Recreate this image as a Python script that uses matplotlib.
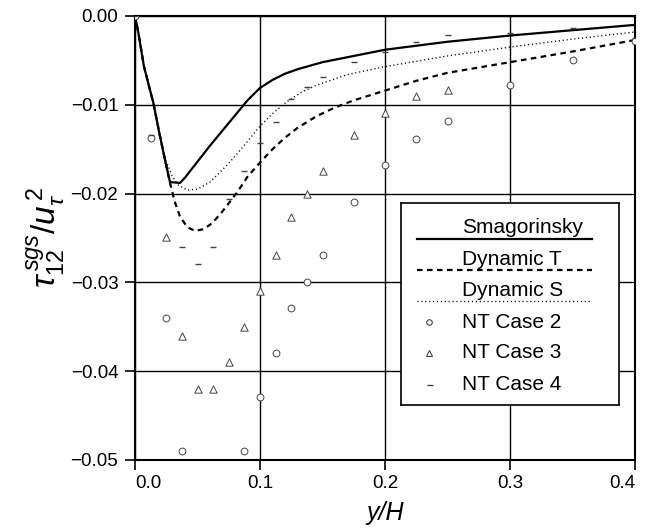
import matplotlib
matplotlib.use("Agg")
import matplotlib.pyplot as plt

plt.rcParams['font.family'] = ['Liberation Sans', 'DejaVu Sans']
plt.rcParams['mathtext.fontset'] = 'custom'
plt.rcParams['mathtext.rm'] = 'Liberation Sans'
plt.rcParams['mathtext.it'] = 'Liberation Sans:italic'

# Кривые моделей
smag_x = [0.0, 0.0027, 0.0072, 0.0147, 0.0195, 0.024, 0.028, 0.036, 0.040, 0.045, 0.05, 0.06, 0.07,
          0.08, 0.09, 0.1, 0.11, 0.12, 0.13, 0.14, 0.15, 0.175, 0.2, 0.25, 0.3, 0.35, 0.4]
smag_y = [0.0, -0.0019, -0.0057, -0.0098, -0.0132, -0.0162, -0.0187, -0.0188, -0.0182, -0.0173, -0.0164,
          -0.0146, -0.0129, -0.0112, -0.0095, -0.0081, -0.0072, -0.0065, -0.0060, -0.0056, -0.0052,
          -0.0045, -0.0038, -0.0029, -0.0022, -0.0016, -0.0010]

dynT_x = [0.0, 0.0027, 0.0072, 0.0147, 0.0195, 0.024, 0.028, 0.032, 0.036, 0.042, 0.048, 0.055,
          0.062, 0.07, 0.076, 0.082, 0.09, 0.1, 0.11, 0.12, 0.13, 0.145, 0.16, 0.175, 0.2, 0.225,
          0.25, 0.3, 0.35, 0.4]
dynT_y = [0.0, -0.0019, -0.0057, -0.0098, -0.0132, -0.0162, -0.0188, -0.0210, -0.0226, -0.0238, -0.0242,
          -0.0240, -0.0233, -0.0220, -0.0209, -0.0198, -0.0181, -0.0165, -0.0150, -0.0137, -0.0126,
          -0.0113, -0.0103, -0.0095, -0.0084, -0.0073, -0.0064, -0.0052, -0.0040, -0.0027]

dynS_x = [0.0, 0.0027, 0.0072, 0.0147, 0.0195, 0.024, 0.030, 0.035, 0.042, 0.05, 0.06, 0.075,
          0.086, 0.1, 0.11, 0.121, 0.133, 0.145, 0.17, 0.2, 0.25, 0.3, 0.35, 0.4]
dynS_y = [0.0, -0.0019, -0.0057, -0.0098, -0.0132, -0.0160, -0.0181, -0.0191, -0.0196, -0.0195, -0.0187,
          -0.0166, -0.0148, -0.0124, -0.0110, -0.0097, -0.0086, -0.0078, -0.0066, -0.0057, -0.0045,
          -0.0035, -0.0026, -0.0018]

# Данные NT
nt2_x = [0.0, 0.0125, 0.025, 0.0375, 0.0875, 0.1, 0.1125, 0.125, 0.1375, 0.15, 0.175, 0.2, 0.225, 0.25, 0.3, 0.35, 0.4]
nt2_y = [0.0, -0.0137, -0.0340, -0.0490, -0.0490, -0.0429, -0.0379, -0.0329, -0.0300, -0.0269, -0.0209,
         -0.0168, -0.0138, -0.0118, -0.0078, -0.0049, -0.0028]

nt3_x = [0.025, 0.0375, 0.05, 0.0625, 0.075, 0.0875, 0.1, 0.1125, 0.125, 0.1375, 0.15, 0.175, 0.2, 0.225, 0.25]
nt3_y = [-0.0249, -0.0360, -0.0420, -0.0420, -0.0390, -0.0350, -0.0310, -0.0269, -0.0226, -0.0200, -0.0175,
         -0.0134, -0.0109, -0.0090, -0.0083]

nt4_x = [0.0, 0.0125, 0.0375, 0.05, 0.0625, 0.075, 0.0875, 0.1, 0.1125, 0.125, 0.1375, 0.15, 0.175, 0.2,
         0.225, 0.25, 0.3, 0.35, 0.4]
nt4_y = [0.0, -0.0134, -0.0260, -0.0279, -0.0260, -0.0206, -0.0175, -0.0143, -0.0119, -0.0094, -0.0080,
         -0.0069, -0.0052, -0.0040, -0.0029, -0.0021, -0.0019, -0.0013, -0.0025]

x_ticks = [0.0, 0.1, 0.2, 0.3, 0.4]
y_ticks = [0.0, -0.01, -0.02, -0.03, -0.04, -0.05]

fig = plt.figure(figsize=(6.5, 5.32), dpi=100)
ax = fig.add_axes([135 / 650, 72 / 532, 500 / 650, 444 / 532])

ax.plot(smag_x, smag_y, color='black', lw=1.6, zorder=3)
ax.plot(dynT_x, dynT_y, color='black', lw=1.6, dashes=(2.5, 2.0), zorder=3)
ax.plot(dynS_x, dynS_y, color='black', lw=1.0, dashes=(0.8, 2.0), zorder=3)

ax.scatter(nt2_x, nt2_y, marker='o', s=24, facecolors='white', edgecolors='#444444', linewidths=0.7, zorder=4)
ax.scatter(nt3_x, nt3_y, marker='^', s=28, facecolors='white', edgecolors='#444444', linewidths=0.7, zorder=4)
ax.scatter(nt4_x, nt4_y, marker='_', s=25, color='#444444', linewidths=1.0, zorder=4)

ax.set_xlim(0, 0.4)
ax.set_ylim(-0.05, 0.0)
ax.set_xticks(x_ticks)
ax.set_yticks(y_ticks)
ax.set_xticklabels([f"{v:.1f}" for v in x_ticks])
ax.set_yticklabels([f"{v:.2f}".replace("-", "\u2212") if v != 0 else "0.00" for v in y_ticks])
xl = ax.get_xticklabels()
xl[0].set_ha('left')
xl[-1].set_ha('right')

ax.tick_params(direction='out', length=7, width=1.2, labelsize=13.5, pad=4)
ax.tick_params(axis='y', pad=5)
ax.grid(True, color='black', lw=1.0)
ax.set_axisbelow(True)
for s in ax.spines.values():
    s.set_linewidth(1.5)

ax.set_xlabel("y/H", fontsize=18, style='italic', labelpad=6)
ax.set_ylabel(r"$\tau^{\,sgs}_{12}/u_\tau^{\,2}$", fontsize=24, labelpad=2)

# Легенда: подпись над образцом линии, как в оригинале
lg = fig.add_axes([401 / 650, (532 - 405) / 532, 218 / 650, 202 / 532])
lg.set_xlim(0, 218)
lg.set_ylim(202, 0)
lg.set_xticks([])
lg.set_yticks([])
for s in lg.spines.values():
    s.set_linewidth(1.2)

lg.text(61, 30, "Smagorinsky", fontsize=15, va='baseline')
lg.plot([16, 191], [36, 36], color='black', lw=1.6)
lg.text(61, 62, "Dynamic T", fontsize=15, va='baseline')
lg.plot([16, 191], [67, 67], color='black', lw=1.6, dashes=(2.5, 2.0))
lg.text(61, 93, "Dynamic S", fontsize=15, va='baseline')
lg.plot([16, 191], [98, 98], color='black', lw=1.0, dashes=(0.8, 2.0))

lg.plot([28], [119], marker='o', ms=4, mfc='white', mec='#444444', mew=0.8)
lg.text(61, 119, "NT Case 2", fontsize=15, va='center')
lg.plot([28], [150], marker='^', ms=4.5, mfc='white', mec='#444444', mew=0.8)
lg.text(61, 150, "NT Case 3", fontsize=15, va='center')
lg.plot([29], [182], marker='_', ms=5, color='#444444', mew=1.0)
lg.text(61, 182, "NT Case 4", fontsize=15, va='center')

fig.savefig("out.png", dpi=100)
